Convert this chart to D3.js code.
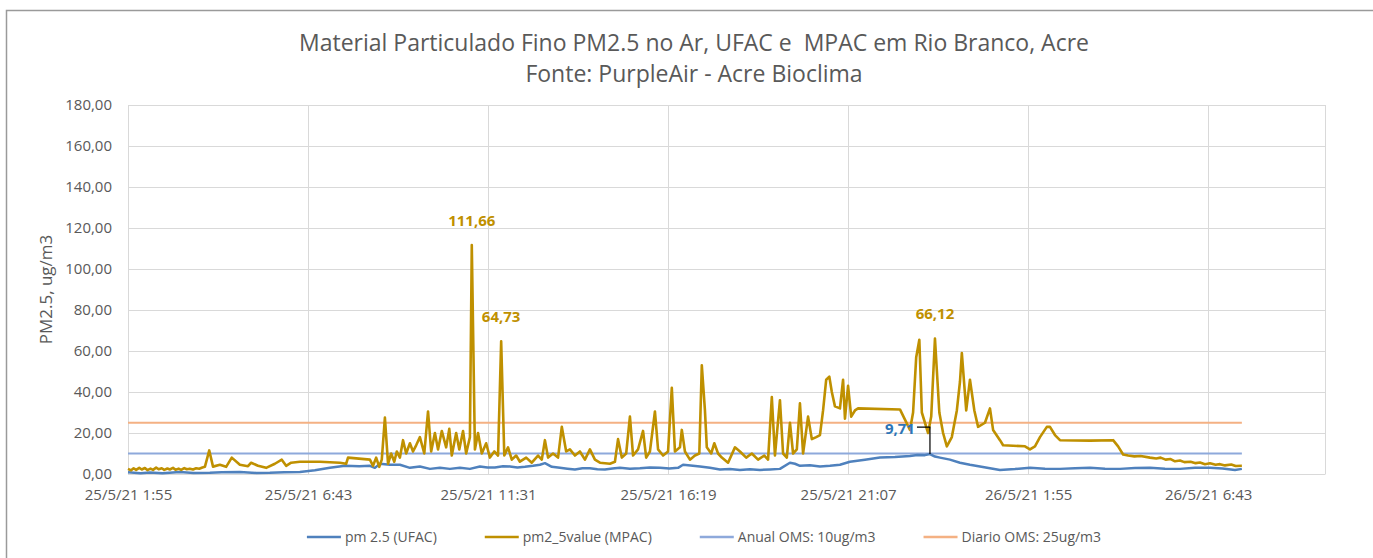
<!DOCTYPE html>
<html>
<head>
<meta charset="utf-8">
<script src="https://cdn.jsdelivr.net/npm/d3@7"></script>
<style>
  body { margin: 0; background: #fff; }
  #chart { width: 1373px; height: 558px; }
  text { font-family: "Open Sans", sans-serif; fill: #595959; }
</style>
</head>
<body>
<div id="chart"></div>
<script>
// readings: [minutes after 25/5/21 1:55, ug/m3]
const startTime = new Date(2021, 4, 25, 1, 55);
const endMinutes = 1915;
const tickStep = 288;

const ufacSeries = [
  [0, 0.8], [20, 0.4], [35, 0.7], [55, 0.4], [83, 1.0], [105, 0.5], [131, 0.6], [150, 0.9], [179, 1.0], [205, 0.5],
  [227, 0.6], [250, 0.9], [275, 1.0], [299, 1.8], [323, 3.0], [347, 4.0], [370, 3.8], [387, 4.0], [395, 3.0], [403, 5.0],
  [419, 4.5], [435, 4.5], [451, 3.0], [467, 3.7], [483, 2.5], [499, 3.0], [515, 2.5], [531, 3.0], [547, 2.5], [563, 3.7],
  [575, 3.2], [587, 3.2], [600, 3.8], [611, 3.7], [623, 3.2], [635, 3.5], [648, 4.0], [659, 4.5], [667, 5.3], [678, 3.5],
  [691, 3.0], [703, 2.6], [715, 2.2], [727, 2.8], [739, 2.8], [751, 2.3], [763, 2.2], [775, 2.7], [787, 3.0], [803, 2.6],
  [819, 2.8], [835, 3.2], [851, 3.0], [866, 2.7], [880, 3.0], [888, 4.5], [900, 4.2], [915, 3.7], [931, 3.0], [947, 2.2],
  [963, 2.4], [979, 2.0], [995, 2.3], [1011, 2.0], [1027, 2.2], [1043, 2.5], [1059, 5.5], [1067, 5.0], [1075, 4.0], [1091, 4.3],
  [1107, 3.7], [1123, 4.0], [1139, 4.5], [1155, 6.0], [1179, 7.0], [1203, 8.0], [1227, 8.3], [1251, 8.8], [1263, 9.3], [1275, 9.2],
  [1283, 9.71], [1291, 8.5], [1299, 8.0], [1315, 7.0], [1331, 5.5], [1347, 4.5], [1363, 3.7], [1379, 2.8], [1395, 2.0], [1419, 2.4],
  [1443, 3.0], [1467, 2.6], [1491, 2.5], [1515, 2.8], [1539, 3.0], [1563, 2.6], [1587, 2.5], [1611, 2.9], [1635, 3.0], [1659, 2.6],
  [1683, 2.5], [1707, 3.0], [1731, 3.0], [1751, 2.7], [1771, 2.0], [1782, 2.5]
];

const mpacSeries = [
  [0, 2.5], [5, 1.8], [9, 2.8], [13, 2.0], [18, 3.0], [22, 2.2], [27, 2.9], [31, 1.9], [36, 2.6], [40, 2.0],
  [45, 3.1], [49, 2.3], [54, 2.8], [58, 2.0], [63, 2.7], [67, 2.2], [72, 3.0], [76, 2.1], [81, 2.6], [85, 2.0],
  [90, 2.9], [94, 2.3], [99, 2.6], [104, 2.2], [109, 2.8], [114, 2.6], [119, 3.2], [123, 3.5], [130, 11.5], [136, 3.6],
  [147, 4.5], [157, 3.5], [166, 8.0], [179, 4.5], [192, 3.8], [197, 5.5], [208, 4.0], [221, 3.0], [235, 5.0], [246, 7.0],
  [253, 4.0], [261, 5.5], [275, 6.0], [307, 6.0], [339, 5.5], [349, 5.0], [352, 8.0], [387, 7.0], [392, 4.0], [397, 8.0],
  [402, 3.5], [406, 7.0], [411, 27.5], [416, 5.0], [421, 10.0], [426, 6.0], [430, 11.0], [435, 8.0], [440, 16.5], [445, 10.0],
  [451, 15.0], [456, 11.0], [461, 14.0], [467, 18.0], [474, 10.0], [480, 30.5], [485, 11.0], [491, 20.0], [496, 12.0], [502, 21.0],
  [509, 13.0], [514, 22.0], [518, 9.0], [525, 20.0], [530, 12.0], [536, 21.0], [541, 10.0], [547, 18.0], [550, 111.66], [555, 12.0],
  [560, 20.0], [566, 10.0], [573, 15.0], [579, 8.0], [586, 11.0], [592, 9.0], [597, 64.73], [602, 9.0], [608, 13.0], [614, 7.0],
  [621, 9.0], [627, 6.0], [637, 8.0], [646, 5.5], [656, 9.0], [662, 7.0], [667, 16.5], [672, 8.0], [680, 10.0], [688, 8.0],
  [694, 23.0], [701, 11.0], [707, 12.0], [715, 9.0], [723, 11.0], [731, 7.0], [739, 12.0], [747, 7.0], [755, 5.5], [771, 5.0],
  [779, 6.0], [784, 17.0], [790, 8.0], [797, 10.0], [803, 28.0], [808, 9.0], [816, 12.0], [824, 21.0], [829, 8.0], [835, 11.0],
  [843, 30.5], [848, 12.0], [856, 9.0], [864, 11.0], [870, 42.0], [875, 11.0], [883, 13.0], [886, 21.5], [891, 11.0], [899, 7.0],
  [907, 9.0], [914, 10.0], [918, 53.0], [923, 31.0], [926, 13.0], [933, 10.0], [938, 15.0], [944, 10.0], [950, 8.0], [960, 5.5],
  [971, 13.0], [979, 11.0], [989, 8.0], [998, 10.0], [1008, 7.0], [1018, 9.0], [1024, 7.0], [1030, 37.5], [1035, 9.0], [1043, 36.0],
  [1048, 10.0], [1054, 8.0], [1059, 25.0], [1064, 10.0], [1070, 12.0], [1075, 34.5], [1080, 10.0], [1088, 28.0], [1094, 17.0], [1101, 18.0],
  [1107, 19.0], [1112, 31.0], [1117, 46.0], [1122, 47.5], [1126, 40.0], [1131, 33.0], [1139, 32.0], [1144, 46.0], [1147, 27.0], [1152, 43.0],
  [1157, 28.0], [1163, 31.0], [1168, 32.0], [1235, 31.5], [1243, 26.5], [1251, 21.5], [1256, 30.0], [1261, 57.0], [1266, 65.5], [1270, 30.0],
  [1275, 25.0], [1280, 20.0], [1285, 28.0], [1291, 66.12], [1298, 30.0], [1304, 20.0], [1310, 13.5], [1318, 18.0], [1326, 31.0], [1331, 45.0],
  [1334, 59.0], [1341, 31.0], [1347, 46.0], [1354, 31.0], [1360, 23.0], [1371, 25.0], [1379, 32.0], [1384, 21.5], [1395, 16.5], [1400, 14.0],
  [1435, 13.5], [1443, 12.0], [1451, 13.5], [1459, 18.0], [1470, 23.0], [1475, 23.0], [1483, 19.0], [1491, 16.5], [1539, 16.3], [1576, 16.5],
  [1584, 13.5], [1592, 9.5], [1600, 9.0], [1610, 8.6], [1620, 8.8], [1635, 8.0], [1645, 7.6], [1652, 8.0], [1660, 7.0], [1668, 7.3],
  [1675, 6.2], [1683, 6.6], [1690, 5.8], [1700, 6.0], [1708, 5.3], [1715, 5.6], [1723, 4.8], [1731, 5.2], [1740, 4.5], [1747, 4.8],
  [1755, 4.2], [1765, 4.6], [1772, 3.9], [1782, 4.0]
];

const anualOMS = 10;
const diarioOMS = 25;
const yTicks = [0, 20, 40, 60, 80, 100, 120, 140, 160, 180];
const seriesNames = ["pm 2.5 (UFAC)", "pm2_5value (MPAC)", "Anual OMS: 10ug/m3", "Diario OMS: 25ug/m3"];
const seriesColors = ["#4F81BD", "#BF9000", "#8EA9DB", "#F4B183"];
// labelled points: series index, minute
const pointLabels = [[1, 550], [1, 597], [1, 1291], [0, 1283]];

const titleLines = ["Material Particulado Fino PM2.5 no Ar, UFAC e\u00a0 MPAC em Rio Branco, Acre", "Fonte: PurpleAir - Acre Bioclima"];

const toDate = m => new Date(startTime.getTime() + m * 60000);
const comma = v => d3.format(".2f")(v).replace(".", ",");

const width = 1373, height = 558;
const margin = {top: 105, right: 48, bottom: 84, left: 128};

const svg = d3.select("#chart").append("svg")
  .attr("width", width).attr("height", height);

// outer chart frame
svg.append("rect")
  .attr("x", 6.5).attr("y", 10.5)
  .attr("width", width + 20).attr("height", height + 20)
  .attr("fill", "none").attr("stroke", "#9a9a9a").attr("stroke-width", 1.5);

const x = d3.scaleTime()
  .domain([startTime, toDate(endMinutes)])
  .range([margin.left, width - margin.right]);
const y = d3.scaleLinear()
  .domain([0, 180])
  .range([height - margin.bottom, margin.top]);

const xTickVals = d3.range(0, endMinutes, tickStep).map(toDate);

// gridlines
svg.append("g").selectAll("line")
  .data(yTicks).join("line")
  .attr("x1", margin.left).attr("x2", width - margin.right)
  .attr("y1", d => Math.round(y(d)) + 0.5).attr("y2", d => Math.round(y(d)) + 0.5)
  .attr("stroke", "#D9D9D9");
svg.append("g").selectAll("line")
  .data(xTickVals).join("line")
  .attr("x1", d => Math.round(x(d)) + 0.5).attr("x2", d => Math.round(x(d)) + 0.5)
  .attr("y1", margin.top).attr("y2", height - margin.bottom)
  .attr("stroke", "#D9D9D9");
svg.append("line")
  .attr("x1", width - margin.right + 0.5).attr("x2", width - margin.right + 0.5)
  .attr("y1", margin.top).attr("y2", height - margin.bottom)
  .attr("stroke", "#D9D9D9");

// axes
const yAxis = svg.append("g")
  .attr("transform", `translate(${margin.left},0)`)
  .call(d3.axisLeft(y).tickValues(yTicks).tickSize(0).tickPadding(16).tickFormat(comma));
yAxis.select(".domain").remove();
yAxis.selectAll("text").style("font-size", "15px").attr("fill", "#595959");

const fmt = d3.timeFormat("%-d/%-m/%y %-H:%M");
const xAxis = svg.append("g")
  .attr("transform", `translate(0,${height - margin.bottom})`)
  .call(d3.axisBottom(x).tickValues(xTickVals).tickSize(0).tickPadding(15).tickFormat(fmt));
xAxis.select(".domain").attr("stroke", "#D9D9D9");
xAxis.selectAll("text").style("font-size", "15px").attr("fill", "#595959");

// reference lines over the data range
const dataEnd = toDate(d3.max(mpacSeries, d => d[0]));
[[anualOMS, 2], [diarioOMS, 3]].forEach(([v, i]) => {
  svg.append("line")
    .attr("x1", x(startTime)).attr("x2", x(dataEnd))
    .attr("y1", y(v)).attr("y2", y(v))
    .attr("stroke", seriesColors[i]).attr("stroke-width", 2.2);
});

const line = d3.line().x(d => x(toDate(d[0]))).y(d => y(d[1]));

svg.append("path").datum(ufacSeries)
  .attr("d", line).attr("fill", "none")
  .attr("stroke", seriesColors[0]).attr("stroke-width", 2.5).attr("stroke-linejoin", "round");
svg.append("path").datum(mpacSeries)
  .attr("d", line).attr("fill", "none")
  .attr("stroke", seriesColors[1]).attr("stroke-width", 2.6).attr("stroke-linejoin", "round");

// data labels
const labelColors = ["#2E75B6", "#BF9000"];
pointLabels.forEach(([s, m]) => {
  const src = s === 0 ? ufacSeries : mpacSeries;
  const p = src.find(d => d[0] === m);
  const px = x(toDate(p[0])), py = y(p[1]);
  if (s === 0) {
    svg.append("path")
      .attr("d", `M${px - 13},${py - 27}H${px}V${py}`)
      .attr("fill", "none").attr("stroke", "#000").attr("stroke-width", 1.2);
    svg.append("text")
      .attr("x", px - 15).attr("y", py - 20)
      .attr("text-anchor", "end")
      .style("font-size", "15px").style("font-weight", "bold")
      .style("fill", labelColors[0])
      .text(comma(p[1]));
  } else {
    svg.append("text")
      .attr("x", px).attr("y", py - 19)
      .attr("text-anchor", "middle")
      .style("font-size", "15px").style("font-weight", "bold")
      .style("fill", labelColors[1])
      .text(comma(p[1]));
  }
});

// titles
svg.append("text").attr("x", 694).attr("y", 51)
  .attr("text-anchor", "middle").style("font-size", "23px")
  .text(titleLines[0]);
svg.append("text").attr("x", 694).attr("y", 82)
  .attr("text-anchor", "middle").style("font-size", "23px")
  .text(titleLines[1]);

svg.append("text")
  .attr("transform", `translate(52,${(margin.top + height - margin.bottom) / 2}) rotate(-90)`)
  .attr("text-anchor", "middle").style("font-size", "17px")
  .text("PM2.5, ug/m3");

// legend
const legend = svg.append("g");
let lx = 0;
seriesNames.forEach((name, i) => {
  const g = legend.append("g").attr("transform", `translate(${lx},0)`);
  g.append("line").attr("x1", 0).attr("x2", 34).attr("y1", 0).attr("y2", 0)
    .attr("stroke", seriesColors[i]).attr("stroke-width", 2.5);
  const t = g.append("text").attr("x", 38).attr("y", 5).style("font-size", "14px").text(name);
  lx += 38 + t.node().getComputedTextLength() + 48;
});
const legendW = lx - 48;
legend.attr("transform", `translate(${704 - legendW / 2},537)`);
</script>
</body>
</html>
